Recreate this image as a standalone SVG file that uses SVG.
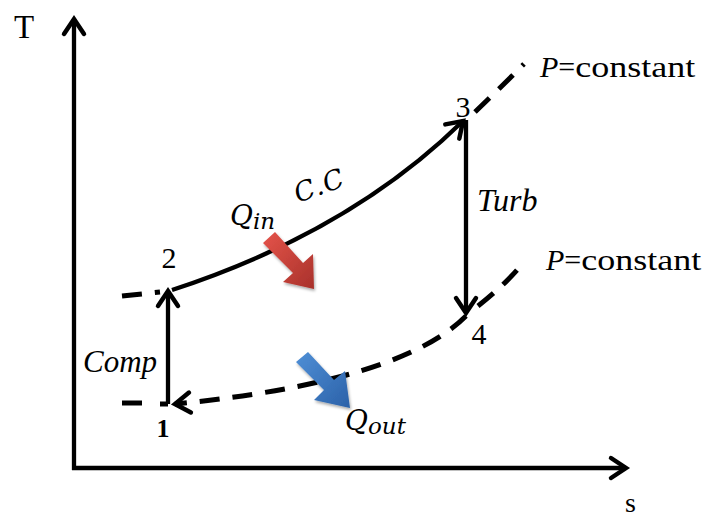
<svg xmlns="http://www.w3.org/2000/svg" width="710" height="517" viewBox="0 0 710 517">
<style>
.ln{fill:none;stroke:#000;stroke-width:4.3;}
.dash{fill:none;stroke:#000;stroke-width:5;stroke-dasharray:20 13;}
.t{font-family:"Liberation Serif","Times New Roman",serif;fill:#000;}
.it{font-family:"Liberation Serif","Times New Roman",serif;font-style:italic;fill:#000;}
.m{font-family:"DejaVu Serif","Liberation Serif",serif;font-style:italic;fill:#000;}
</style>
<defs>
<marker id="ah" markerUnits="userSpaceOnUse" markerWidth="40" markerHeight="40" viewBox="-20 -20 40 40" refX="0" refY="0" orient="auto">
<path d="M -15 -10 L 0 0 L -15 10" fill="none" stroke="#000" stroke-width="4.5" stroke-linecap="round" stroke-linejoin="miter"/>
</marker>
<linearGradient id="red" x1="0" y1="0" x2="1" y2="1">
<stop offset="0" stop-color="#e5544a"/><stop offset="1" stop-color="#a8312b"/>
</linearGradient>
<linearGradient id="blue" x1="0" y1="0" x2="1" y2="1">
<stop offset="0" stop-color="#4f8fd6"/><stop offset="1" stop-color="#2b61a8"/>
</linearGradient>
<filter id="sh" x="-20%" y="-20%" width="150%" height="150%">
<feGaussianBlur in="SourceAlpha" stdDeviation="1.5"/>
<feOffset dx="1" dy="2" result="b"/>
<feComponentTransfer><feFuncA type="linear" slope="0.35"/></feComponentTransfer>
<feMerge><feMergeNode/><feMergeNode in="SourceGraphic"/></feMerge>
</filter>
</defs>

<g id="axes">
<path class="ln" d="M 74 470 L 74 19" marker-end="url(#ah)"/>
<path class="ln" d="M 72 468 L 626 468" marker-end="url(#ah)"/>
<text class="t" x="14" y="38" font-size="33">T</text>
<text class="t" x="625" y="512" font-size="28">s</text>
</g>

<g id="connectors">
<path class="dash" d="M 122 296 L 160 292"/>
<path class="ln" d="M 172 290 Q 350 232 463 121" marker-end="url(#ah)"/>
<path class="dash" d="M 475 112 Q 500 88 524 64" stroke-dasharray="18 12 3 100"/>
<path class="ln" d="M 168 404 L 168 291" marker-end="url(#ah)"/>
<path class="ln" d="M 466 120 L 466 313" marker-end="url(#ah)"/>
<path class="dash" d="M 122 403 L 143 403"/>
<path class="dash" d="M 160 404 L 168 404"/>
<path class="dash" d="M 466 316 Q 400 382 175 404" marker-end="url(#ah)"/>
<path class="dash" d="M 478 306 Q 505 285 523 263" stroke-dasharray="20 12 3 100"/>
</g>

<g id="heat-in">
<path d="M 263 243 L 275 232 L 303 263 L 313 254 L 314 289 L 283 282 L 293 273 Z" fill="url(#red)" filter="url(#sh)"/>
</g>
<g id="heat-out">
<path d="M 296 362 L 308 352 L 334 380 L 345 371 L 350 408 L 314 400 L 324 390 Z" fill="url(#blue)" filter="url(#sh)"/>
</g>

<g id="labels">
<text class="t" x="169" y="268" font-size="30" text-anchor="middle">2</text>
<text class="t" x="463" y="117" font-size="30" text-anchor="middle">3</text>
<text class="t" x="479" y="344" font-size="30" text-anchor="middle">4</text>
<text class="t" x="163" y="437" font-size="26" font-weight="bold" text-anchor="middle">1</text>
<text class="it" x="83" y="372" font-size="31">Comp</text>
<text class="it" x="477" y="211" font-size="32">Turb</text>
<text class="m" x="298" y="203" font-size="27" letter-spacing="1" transform="rotate(-20 298 203)">C.C</text>
<text class="m" x="230" y="225" font-size="28">Q<tspan font-size="23" dy="4">in</tspan></text>
<text class="m" x="345" y="430" font-size="28">Q<tspan font-size="23" dy="4">out</tspan></text>
<text class="t" x="540" y="77" font-size="30"><tspan font-style="italic">P</tspan>=<tspan textLength="120" lengthAdjust="spacingAndGlyphs">constant</tspan></text>
<text class="t" x="546" y="270" font-size="30"><tspan font-style="italic">P</tspan>=<tspan textLength="120" lengthAdjust="spacingAndGlyphs">constant</tspan></text>
</g>
</svg>
